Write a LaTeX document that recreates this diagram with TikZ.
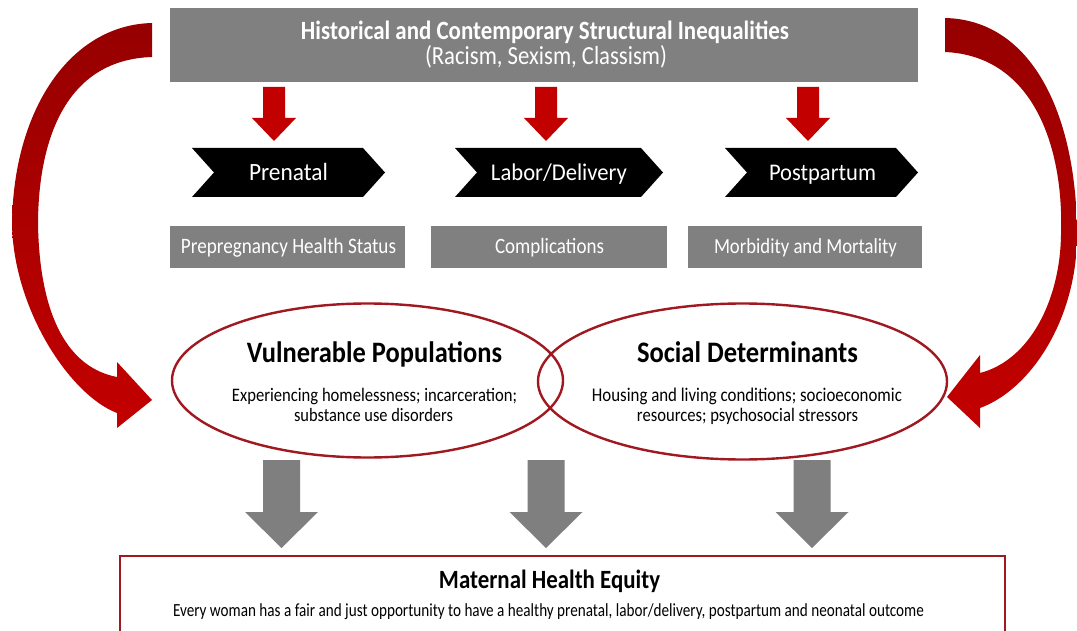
\documentclass[tikz,border=0pt]{standalone}
\usepackage{fontspec}
\setmainfont{Carlito}
\usepackage{graphicx}
\definecolor{boxgray}{HTML}{808080}
\definecolor{arrred}{HTML}{C30000}
\definecolor{darkred}{HTML}{960000}
\definecolor{ellred}{HTML}{A01820}
\definecolor{arrgray}{HTML}{7F7F7F}
\newcommand\fw[3][1.12]{\scalebox{1}[#1]{\resizebox{#2pt}{!}{#3}}}
\newcommand\redarr[1]{\fill[arrred] ({#1-11},87) -- ({#1+11},87) -- ({#1+11},118) -- ({#1+22},118) -- (#1,141) -- ({#1-22},118) -- ({#1-11},118) -- cycle;}
\newcommand\grayarr[1]{\fill[arrgray] ({#1-18.5},460) -- ({#1+18.5},460) -- ({#1+18.5},512) -- ({#1+36.5},512) -- (#1,548) -- ({#1-36.5},512) -- ({#1-18.5},512) -- cycle;}
\newcommand\chevron[2]{\fill[black] (#1,148) -- ({#2-22},148) -- (#2,172.5) -- ({#2-22},197) -- (#1,197) -- ({#1+22},172.5) -- cycle;}
\begin{document}
\begin{tikzpicture}[x=1pt,y=-1pt,
  lbl/.style={inner sep=0pt, text=white, anchor=base},
  dark/.style={inner sep=0pt, text=black, anchor=base},
  gbox/.style={fill=boxgray, draw=none, inner sep=0pt},
  ell/.style={draw=ellred, line width=2.4pt},
  bigarr/.style={top color=darkred, bottom color=arrred, draw=none}]
\clip (0,0) rectangle (1077,631);
\fill[white] (0,0) rectangle (1077,631);

% big curved arrows
\path[bigarr]
 (152,23) .. controls (70,25) and (13,110) .. (12,225)
 .. controls (14,310) and (70,395) .. (117,413)
 -- (117,428) -- (152,400) -- (117,362) -- (117,377)
 .. controls (70,368) and (40,320) .. (38,225)
 .. controls (38,150) and (60,60) .. (152,57) -- cycle;
\path[bigarr]
 (945,18) .. controls (1035,20) and (1077,120) .. (1077,235)
 .. controls (1077,320) and (1030,390) .. (980,408)
 -- (980,428) -- (947,397) -- (980,355) -- (980,373)
 .. controls (1030,360) and (1060,300) .. (1061,235)
 .. controls (1064,150) and (1035,56) .. (945,52) -- cycle;

% top box
\node[gbox, minimum width=748pt, minimum height=74pt] (top) at (544,45) {};
\node[lbl] (t1) at (545,39.5) {\fw[1.15]{488}{\bfseries Historical and Contemporary Structural Inequalities}};
\node[lbl] (t2) at (546,65) {\fw[1.15]{242}{(Racism, Sexism, Classism)}};

% red arrows
\redarr{274}
\redarr{546}
\redarr{808}

% chevrons
\chevron{192}{385}
\chevron{455}{663}
\chevron{725}{918}
\node[lbl] (pre) at (288.5,180.5) {\fw[1.06]{79}{Prenatal}};
\node[lbl] (lab) at (559,180.5) {\fw[1.06]{136}{Labor/Delivery}};
\node[lbl] (post) at (822.5,180.5) {\fw[1.06]{107}{Postpartum}};

% gray boxes
\node[gbox, minimum width=235pt, minimum height=42pt] (b1) at (287.5,247) {};
\node[gbox, minimum width=236pt, minimum height=42pt] (b2) at (549,247) {};
\node[gbox, minimum width=234pt, minimum height=42pt] (b3) at (805,247) {};
\node[lbl] (b1t) at (288.5,254) {\fw[1.15]{215}{Prepregnancy Health Status}};
\node[lbl] (b2t) at (549.5,254) {\fw[1.15]{109}{Complications}};
\node[lbl] (b3t) at (805.5,254) {\fw[1.15]{183}{Morbidity and Mortality}};

% ellipses
\draw[ell] (367.5,380.5) ellipse [x radius=195.5, y radius=77];
\draw[ell] (742.5,381.5) ellipse [x radius=204.5, y radius=78];
\node[dark] (vp) at (374.5,362) {\fw{255}{\bfseries Vulnerable Populations}};
\node[dark] (vp1) at (374.5,401) {\fw[1.15]{285}{Experiencing homelessness; incarceration;}};
\node[dark] (vp2) at (373.5,421) {\fw[1.15]{159}{substance use disorders}};
\node[dark] (sd) at (747.5,362) {\fw{221}{\bfseries Social Determinants}};
\node[dark] (sd1) at (747,401) {\fw[1.15]{310}{Housing and living conditions; socioeconomic}};
\node[dark] (sd2) at (747.5,421) {\fw[1.15]{221}{resources; psychosocial stressors}};

% gray arrows
\grayarr{281.5}
\grayarr{546}
\grayarr{812}

% bottom box
\draw[ellred, line width=2.4pt] (120,556) rectangle (1005,636);
\node[dark] (mhe) at (549.5,588) {\fw[1.15]{221}{\bfseries Maternal Health Equity}};
\node[dark] (mhe1) at (548.5,616) {\fw[1.22]{751}{Every woman has a fair and just opportunity to have a healthy prenatal, labor/delivery, postpartum and neonatal outcome}};
\end{tikzpicture}
\end{document}
